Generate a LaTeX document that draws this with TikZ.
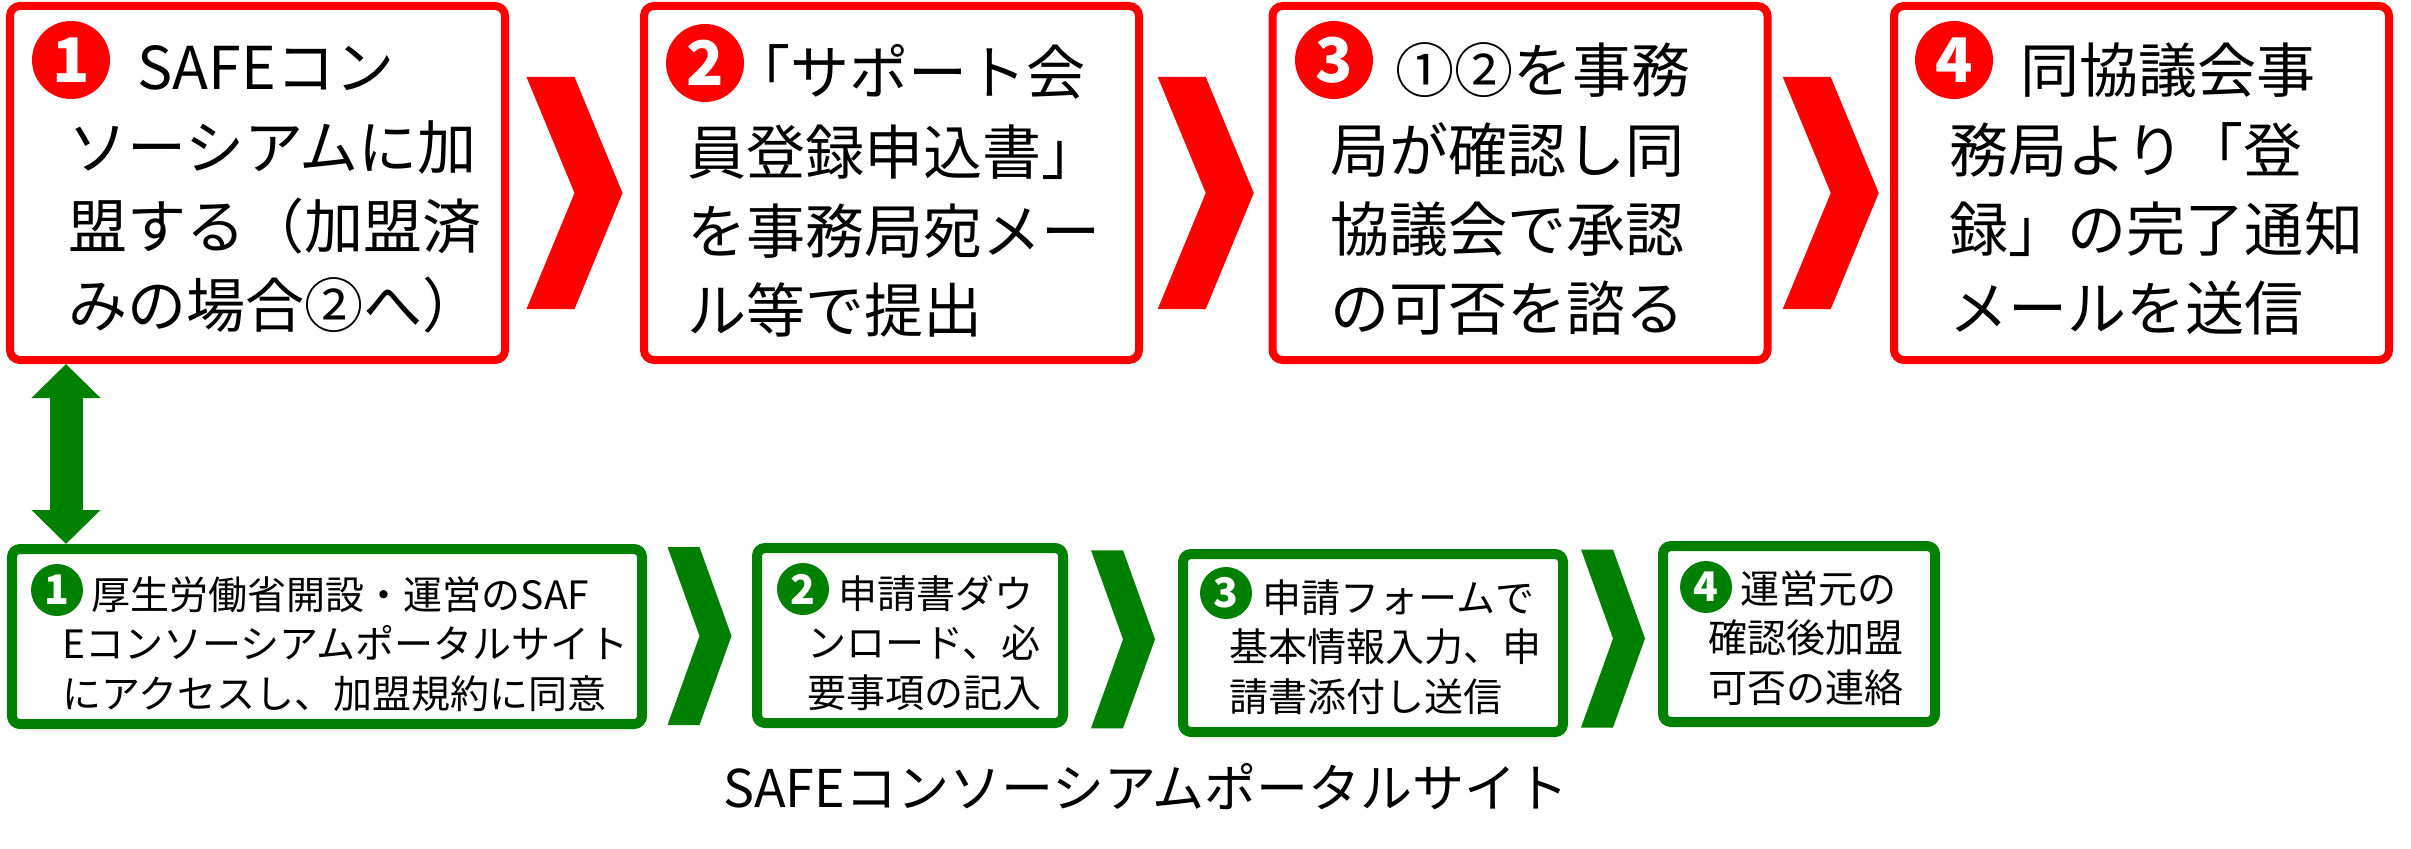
\documentclass[tikz,border=0pt]{standalone}
\usepackage{fontspec}
\setmainfont{Noto Sans CJK JP}
\usetikzlibrary{arrows.meta, calc}
\definecolor{sred}{RGB}{255,0,0}
\definecolor{sgreen}{RGB}{0,128,0}

\begin{document}
\begin{tikzpicture}[
    topbox/.style={draw=sred, line width=0.08cm, rounded corners=0.1cm, minimum width=4.95cm, minimum height=3.54cm, inner sep=0},
    portbox/.style={draw=sgreen, line width=0.1cm, rounded corners=0.08cm, inner sep=0},
    topnum/.style={circle, fill=sred, text=white, minimum size=0.78cm, inner sep=0, font=\fontsize{17.5pt}{17.5pt}\selectfont\bfseries},
    portnum/.style={circle, fill=sgreen, text=white, minimum size=0.52cm, inner sep=0, font=\fontsize{11.6pt}{11.6pt}\selectfont\bfseries},
    toptext/.style={anchor=base west, align=left, text width=4.7cm, inner sep=0, font=\fontsize{16.8pt}{22.5pt}\selectfont},
    porttext/.style={anchor=base west, align=left, text width=5.8cm, inner sep=0, font=\fontsize{11.1pt}{14.1pt}\selectfont},
]
    \useasboundingbox (0,0) rectangle (24.11,-8.49);

    % Application steps
    \node[topbox] (b1) at (2.575,-1.83) {};
    \node[topbox] (b2) at (8.915,-1.83) {};
    \node[topbox] (b3) at (15.20,-1.83) {};
    \node[topbox] (b4) at (21.415,-1.83) {};

    \node[topnum] (n1) at (0.71,-0.60) {1};
    \node[topnum] (n2) at (7.05,-0.63) {2};
    \node[topnum] (n3) at (13.34,-0.60) {3};
    \node[topnum] (n4) at (19.54,-0.60) {4};

    \node[toptext] (t1) at (0.68,-0.90) {\hspace*{0.69cm}SAFEコン\\ソーシアムに加\\盟する（加盟済\\みの場合②へ）};
    \node[toptext] (t2) at (6.87,-0.95) {\hspace*{0.44cm}「サポート会\\員登録申込書」\\を事務局宛メー\\ル等で提出};
    \node[toptext] (t3) at (13.30,-0.93) {\hspace*{0.65cm}①②を事務\\局が確認し同\\協議会で承認\\の可否を諮る};
    \node[toptext] (t4) at (19.49,-0.93) {\hspace*{0.71cm}同協議会事\\務局より「登\\録」の完了通知\\メールを送信};

    % Portal site steps
    \node[portbox, minimum width=6.30cm, minimum height=1.75cm] (g1) at (3.27,-6.365) {};
    \node[portbox, minimum width=3.06cm, minimum height=1.75cm] (g2) at (9.10,-6.355) {};
    \node[portbox, minimum width=3.80cm, minimum height=1.78cm] (g3) at (13.73,-6.43) {};
    \node[portbox, minimum width=2.72cm, minimum height=1.76cm] (g4) at (17.99,-6.34) {};

    \node[portnum] (m1) at (0.57,-5.90) {1};
    \node[portnum] (m2) at (8.03,-5.89) {2};
    \node[portnum] (m3) at (12.26,-5.93) {3};
    \node[portnum] (m4) at (17.06,-5.87) {4};

    \node[porttext] (s1) at (0.62,-6.09) {\hspace*{0.29cm}厚生労働省開設・運営のSAF\\Eコンソーシアムポータルサイト\\にアクセスし、加盟規約に同意};
    \node[porttext] (s2) at (8.07,-6.08) {\hspace*{0.31cm}申請書ダウ\\ンロード、必\\要事項の記入};
    \node[porttext] (s3) at (12.29,-6.12) {\hspace*{0.33cm}申請フォームで\\基本情報入力、申\\請書添付し送信};
    \node[porttext] (s4) at (17.08,-6.03) {\hspace*{0.32cm}運営元の\\確認後加盟\\可否の連絡};

    \node[anchor=base, font=\fontsize{14.8pt}{14.8pt}\selectfont] (cap) at (11.46,-8.07) {SAFEコンソーシアムポータルサイト};

    % Chevrons
    \foreach \a/\b in {b1/b2, b2/b3, b3/b4}
        \fill[sred] ($(\a.east)!0.5!(\b.west)+(0,-0.1)$) ++(-0.48,1.16) -- ++(0.48,0) -- ++(0.48,-1.16) -- ++(-0.48,-1.16) -- ++(-0.48,0) -- ++(0.48,1.16) -- cycle;
    \foreach \a/\b in {g1/g2, g2/g3, g3/g4}
        \fill[sgreen] ($(\a.east)!0.5!(\b.west)$) ++(-0.32,0.89) -- ++(0.32,0) -- ++(0.32,-0.89) -- ++(-0.32,-0.89) -- ++(-0.32,0) -- ++(0.32,0.89) -- cycle;

    % Link
    \coordinate (dtop) at ([xshift=0.6cm]b1.south west);
    \draw[sgreen, line width=0.33cm, {Triangle[length=0.34cm,width=0.67cm]}-{Triangle[length=0.34cm,width=0.67cm]}] (dtop) -- (dtop |- g1.north);
\end{tikzpicture}
\end{document}
